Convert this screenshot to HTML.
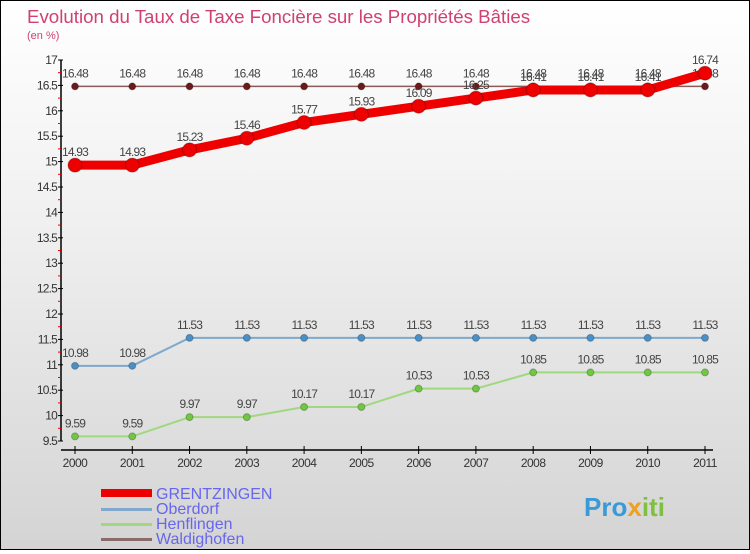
<!DOCTYPE html>
<html><head><meta charset="utf-8"><style>
html,body{margin:0;padding:0}
body{width:750px;height:550px;overflow:hidden;font-family:"Liberation Sans",sans-serif}
#wrap{position:relative;width:748px;height:548px;border:1px solid #000;background:linear-gradient(#fff 0%,#f0f0f0 40%,#d4d4d4 100%)}
</style></head><body>
<div id="wrap">
<svg id="chart" width="748" height="548" font-family="Liberation Sans, sans-serif">
<text x="26" y="22" font-size="18.7" fill="#d04070">Evolution du Taux de Taxe Foncière sur les Propriétés Bâties</text>
<text x="26" y="38" font-size="11" fill="#d04070">(en %)</text>
<g id="axes"></g><g id="series"></g>
<g>
<rect x="100" y="488" width="51" height="8" fill="#e00"/>
<text x="155" y="498" font-size="16" fill="#6666ee">GRENTZINGEN</text>
<rect x="100" y="507" width="51" height="3" fill="#7fa8cc"/>
<text x="155" y="513" font-size="16" fill="#6666ee">Oberdorf</text>
<rect x="100" y="522" width="51" height="3" fill="#a0d880"/>
<text x="155" y="528" font-size="16" fill="#6666ee">Henflingen</text>
<rect x="100" y="537" width="51" height="3" fill="#8a6a6a"/>
<text x="155" y="543" font-size="16" fill="#6666ee">Waldighofen</text>
</g>
<text x="583" y="515" font-size="26" font-weight="bold" fill="#3a9ad8">Pro<tspan fill="#f0a020">x</tspan><tspan fill="#80c040">iti</tspan></text>
</svg>
</div>
<script>
const years=["2000","2001","2002","2003","2004","2005","2006","2007","2008","2009","2010","2011"];
const grentzingen=[14.93,14.93,15.23,15.46,15.77,15.93,16.09,16.25,16.41,16.41,16.41,16.74];
const oberdorf=[10.98,10.98,11.53,11.53,11.53,11.53,11.53,11.53,11.53,11.53,11.53,11.53];
const henflingen=[9.59,9.59,9.97,9.97,10.17,10.17,10.53,10.53,10.85,10.85,10.85,10.85];
const waldighofen=[16.48,16.48,16.48,16.48,16.48,16.48,16.48,16.48,16.48,16.48,16.48,16.48];
const yTicks=["9.5","10","10.5","11","11.5","12","12.5","13","13.5","14","14.5","15","15.5","16","16.5","17"];
const NS="http://www.w3.org/2000/svg";
const yMin=9.5,yMax=17,yTop=59,yBot=440;
const xs=i=>74+i*(630/(years.length-1));
const ys=v=>yBot-(v-yMin)/(yMax-yMin)*(yBot-yTop);
function mk(p,t,a){const e=document.createElementNS(NS,t);for(const k in a)e.setAttribute(k,a[k]);p.appendChild(e);return e;}
const ax=document.getElementById('axes');
let yl=mk(ax,'line',{x1:60,y1:yTop,x2:60,y2:yBot,stroke:'#000','stroke-width':1.5});


yTicks.forEach(t=>{const v=parseFloat(t),y=ys(v);
mk(ax,'line',{x1:57,y1:y,x2:62,y2:y,stroke:'#000'});
const hy=ys(v+0.25);if(v<yMax)mk(ax,'line',{x1:57,y1:hy,x2:60,y2:hy,stroke:'#e00'});
const tx=mk(ax,'text',{x:56,y:y+4,'font-size':12,'text-anchor':'end',fill:'#333','letter-spacing':'-0.8'});tx.textContent=t;

});
let xl=mk(ax,'line',{x1:60,y1:449,x2:712,y2:449,stroke:'#000','stroke-width':1.5});


years.forEach((yr,i)=>{const x=xs(i);mk(ax,'line',{x1:x,y1:445,x2:x,y2:453,stroke:'#000'});
const tx=mk(ax,'text',{x:x,y:466,'font-size':12,'text-anchor':'middle',fill:'#333','letter-spacing':'-0.5'});tx.textContent=yr;

});
const sg=document.getElementById('series');
function series(name,data,color,dot,w,r){
const g=mk(sg,'g',{});


mk(g,'polyline',{points:data.map((v,i)=>xs(i)+','+ys(v)).join(' '),fill:'none',stroke:color,'stroke-width':w});
data.forEach((v,i)=>{const c=mk(g,'circle',{cx:xs(i),cy:ys(v),r:r,fill:dot,stroke:'rgba(0,0,0,0.25)'});


const t=mk(g,'text',{x:xs(i),y:ys(v)-9,'font-size':12,'text-anchor':'middle',fill:'#444','letter-spacing':'-0.8'});t.textContent=v.toFixed(2).replace(/0$/,'').replace(/\.0?$/,'');

});}
series('waldighofen',waldighofen,'#8a5a5a','#6a1a1a',1.5,3.5);
series('henflingen',henflingen,'#a0d880','#70c840',2,3.5);
series('oberdorf',oberdorf,'#7fa8cc','#4a90c8',2,3.5);
series('grentzingen',grentzingen,'#e00','#e00',9,7);
</script>
</body></html>
